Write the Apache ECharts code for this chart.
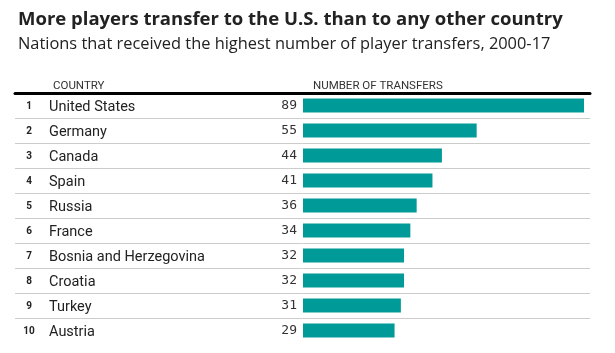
<!DOCTYPE html>
<html><head><meta charset="utf-8">
<script src="https://cdn.jsdelivr.net/npm/echarts@6/dist/echarts.min.js"></script>
<style>html,body{margin:0;padding:0;background:#fff}#c{width:615px;height:353px}</style>
</head><body><div id="c"></div>
<script>
const countries = ["United States","Germany","Canada","Spain","Russia","France","Bosnia and Herzegovina","Croatia","Turkey","Austria"];
const transfers = [89,55,44,41,36,34,32,32,31,29];
const titleText = "More players transfer to the U.S. than to any other country";
const subtitleText = "Nations that received the highest number of player transfers, 2000-17";
const headers = ["COUNTRY","NUMBER OF TRANSFERS"];

const chart = echarts.init(document.getElementById('c'), null, {renderer:'canvas'});
const FONT = 'Roboto';
chart.setOption({
  animation:false,
  backgroundColor:'#fff',
  title:[
    {text:titleText, left:13, top:5, textStyle:{fontFamily:'Open Sans', fontWeight:'bold', fontSize:18.5, color:'#222'}},
    {text:subtitleText, left:13, top:31, textStyle:{fontFamily:'Open Sans', fontWeight:'normal', fontSize:16.4, color:'#222'}},
    {text:headers[0], left:48, top:75, textStyle:{fontFamily:FONT, fontWeight:'normal', fontSize:11.5, color:'#333'}},
    {text:headers[1], left:308, top:75, textStyle:{fontFamily:FONT, fontWeight:'normal', fontSize:11.5, color:'#333'}}
  ],
  grid:[
    {left:15, right:25, top:93, height:250},
    {left:303, width:281, top:93, height:250}
  ],
  xAxis:[
    {gridIndex:0, type:'value', position:'top', min:0, max:1,
     axisLine:{show:true, onZero:false, lineStyle:{color:'#000', width:3}},
     axisTick:{show:false}, axisLabel:{show:false}, splitLine:{show:false}},
    {gridIndex:1, type:'value', min:0, max:89, show:false}
  ],
  yAxis:[
    {gridIndex:0, type:'category', data:countries, inverse:true,
     axisLine:{show:false}, axisTick:{show:false},
     splitLine:{show:true, showMinLine:false, showMaxLine:false, lineStyle:{color:'#cccccc', width:1}},
     axisLabel:{inside:true, margin:0, align:'left',
       formatter:(v,i)=>'{r|'+(i+1)+'}{c|'+v+'}',
       rich:{
         r:{width:28, align:'center', padding:[2,0,0,0], fontFamily:FONT, fontWeight:'bold', fontSize:10, color:'#222'},
         c:{padding:[3,0,0,6], fontFamily:FONT, fontSize:14.5, color:'#222'}
       }}},
    {gridIndex:1, type:'category', data:countries, inverse:true, show:false}
  ],
  series:[{
    type:'bar', xAxisIndex:1, yAxisIndex:1, data:transfers, barWidth:14,
    itemStyle:{color:'#009a98'},
    label:{show:true, position:'left', distance:6, fontFamily:'DejaVu Sans Mono', fontSize:13, color:'#333'}
  }]
});
</script></body></html>
